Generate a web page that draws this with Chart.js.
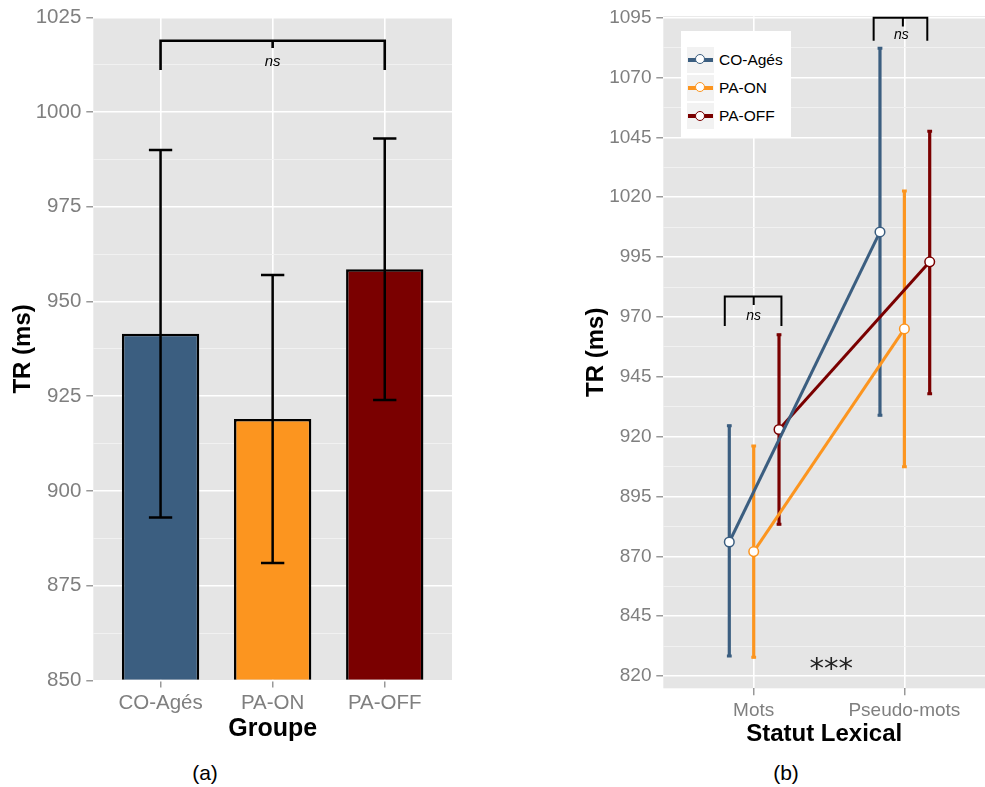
<!DOCTYPE html>
<html><head><meta charset="utf-8">
<script src="https://cdn.jsdelivr.net/npm/chart.js@4.4.1/dist/chart.umd.min.js"></script>
<style>
html,body{margin:0;padding:0;background:#fff;width:985px;height:787px;overflow:hidden;position:relative;font-family:"Liberation Sans",Arial,sans-serif;}
#wa{position:absolute;left:0;top:0;width:470px;height:750px;}
#wb{position:absolute;left:575px;top:0;width:410px;height:750px;}
.cap{position:absolute;font-size:21px;color:#000;transform:translate(-50%,-50%);white-space:nowrap;}
#legend{position:absolute;left:681px;top:31px;width:110px;height:106px;background:#fff;}
.li{position:absolute;left:6px;height:26px;width:120px;}
.key{position:absolute;left:0;top:0;width:27px;height:26px;background:#F2F2F2;}
.kl{position:absolute;left:1px;top:11px;width:25px;height:4px;}
.kc{position:absolute;left:8px;top:7.5px;width:8px;height:8px;border-radius:50%;background:#fff;border:1.5px solid;}
.lt{position:absolute;left:32px;top:0;line-height:26px;font-size:15.5px;color:#000;}
</style></head>
<body>
<div id="wa"><canvas id="ca" width="470" height="750"></canvas></div>
<div id="wb"><canvas id="cb" width="410" height="750"></canvas></div>
<div id="legend"></div>
<div class="cap" style="left:205px;top:773px;">(a)</div>
<div class="cap" style="left:786px;top:773px;">(b)</div>
<script>
// ---------- data: chart (a) ----------
const groups = ['CO-Agés', 'PA-ON', 'PA-OFF'];
const barMeans = [941.5, 919, 958.5];
const barLower = [893, 881, 924];
const barUpper = [990, 957, 993];
const yTicksA = [850, 875, 900, 925, 950, 975, 1000, 1025];

// ---------- data: chart (b) ----------
const lexLabels = ['Mots', 'Pseudo-mots'];
const seriesNames = ['CO-Agés', 'PA-ON', 'PA-OFF'];
const coMeans = [876, 1005.5];
const coLower = [828, 928.5];
const coUpper = [925, 1082.6];
const onMeans = [872, 965];
const onLower = [827.4, 907];
const onUpper = [916.5, 1023];
const offMeans = [923, 993];
const offLower = [883, 937.5];
const offUpper = [963, 1048];
const yTicksB = [820, 845, 870, 895, 920, 945, 970, 995, 1020, 1045, 1070, 1095];

const COLORS = ['#3B5E80', '#FC951F', '#7A0000'];
const FONT = '"Liberation Sans", Arial, sans-serif';
Chart.defaults.font.family = FONT;
Chart.defaults.animation = false;

function withMinor(majors) {
  const out = [];
  majors.forEach((v, i) => {
    out.push({value: v});
    if (i < majors.length - 1) out.push({value: (v + majors[i + 1]) / 2});
  });
  return out;
}
const bgPlugin = {
  id: 'panelBg',
  beforeDraw(chart) {
    const {ctx, chartArea: a} = chart;
    ctx.save();
    ctx.fillStyle = '#E5E5E5';
    ctx.fillRect(a.left, a.top, a.right - a.left, a.bottom - a.top);
    ctx.restore();
  }
};
function drawBracket(ctx, xs, ys, b, lw, fontSize) {
  const x1 = xs.getPixelForValue(b.x1), x2 = xs.getPixelForValue(b.x2), xm = xs.getPixelForValue(b.xm);
  const y = ys.getPixelForValue(b.y), ye = ys.getPixelForValue(b.yEnd), ymid = ys.getPixelForValue(b.yMid);
  ctx.save();
  ctx.strokeStyle = '#000';
  ctx.lineWidth = lw;
  ctx.beginPath();
  ctx.moveTo(x1, ye); ctx.lineTo(x1, y); ctx.lineTo(x2, y); ctx.lineTo(x2, ye);
  ctx.moveTo(xm, y); ctx.lineTo(xm, ymid);
  ctx.stroke();
  ctx.fillStyle = '#000';
  ctx.font = 'italic ' + fontSize + 'px ' + FONT;
  ctx.textAlign = 'center';
  ctx.textBaseline = 'middle';
  ctx.fillText(b.text, xs.getPixelForValue(b.xl), ys.getPixelForValue(b.yl));
  ctx.restore();
}
function yScaleOpts(majors, min, max, width, fontSize, tickPad, titlePad) {
  const isMajor = v => majors.some(m => Math.abs(m - v) < 1e-6);
  return {
    type: 'linear', min: min, max: max,
    afterBuildTicks: s => { s.ticks = withMinor(majors); },
    afterFit: s => { s.width = width; },
    ticks: {
      autoSkip: false, padding: tickPad, color: '#7F7F7F',
      font: {size: fontSize},
      callback: v => isMajor(v) ? String(v) : ''
    },
    grid: {
      offset: false, drawTicks: true, tickLength: 7,
      color: c => (c.tick && isMajor(c.tick.value)) ? '#FFFFFF' : '#F2F2F2',
      lineWidth: c => (c.tick && isMajor(c.tick.value)) ? 1.6 : 0.9,
      tickColor: c => (c.tick && isMajor(c.tick.value)) ? '#7F7F7F' : 'rgba(0,0,0,0)',
      tickWidth: 1.2
    },
    border: {display: false},
    title: {display: true, text: 'TR (ms)', color: '#000', font: {size: 24, weight: 'bold'}, padding: {top: titlePad, bottom: 0}}
  };
}

// ---------- chart (a) ----------
const bracketsA = [{x1: 1, x2: 3, xm: 2, y: 1018.8, yEnd: 1011.1, yMid: 1016.9, text: 'ns', xl: 2, yl: 1013.3}];
const errA = {
  id: 'errA',
  afterDatasetsDraw(chart) {
    const {ctx} = chart, xs = chart.scales.x, ys = chart.scales.y;
    ctx.save();
    ctx.strokeStyle = '#000';
    ctx.lineWidth = 2.5;
    barMeans.forEach((m, i) => {
      const x = xs.getPixelForValue(i + 1);
      const xl = xs.getPixelForValue(i + 1 - 0.104), xr = xs.getPixelForValue(i + 1 + 0.104);
      const yl = ys.getPixelForValue(barLower[i]), yu = ys.getPixelForValue(barUpper[i]);
      ctx.beginPath();
      ctx.moveTo(x, yl); ctx.lineTo(x, yu);
      ctx.moveTo(xl, yu); ctx.lineTo(xr, yu);
      ctx.moveTo(xl, yl); ctx.lineTo(xr, yl);
      ctx.stroke();
    });
    ctx.restore();
    bracketsA.forEach(b => drawBracket(ctx, xs, ys, b, 2.6, 15));
  }
};
new Chart(document.getElementById('ca'), {
  type: 'bar',
  data: {
    datasets: [{
      data: barMeans.map((v, i) => ({x: i + 1, y: v})),
      backgroundColor: COLORS,
      borderColor: '#000',
      borderWidth: 2.5,
      borderSkipped: 'start',
      base: 850,
      barPercentage: 0.69,
      categoryPercentage: 1
    }]
  },
  options: {
    responsive: false,
    layout: {autoPadding: false, padding: {top: 17.3, right: 18, bottom: 0, left: 0}},
    plugins: {legend: {display: false}, tooltip: {enabled: false}},
    scales: {
      x: {
        type: 'linear', min: 0.4, max: 3.6, offset: false,
        afterBuildTicks: s => { s.ticks = groups.map((g, i) => ({value: i + 1})); },
        afterFit: s => { s.height = 69.5; },
        ticks: {autoSkip: false, maxRotation: 0, padding: 3.5, color: '#7F7F7F', font: {size: 20.5},
          callback: v => groups[Math.round(v) - 1]},
        grid: {offset: false, color: '#FFFFFF', lineWidth: 1.6, tickLength: 7, tickColor: '#7F7F7F', tickWidth: 1.2},
        border: {display: false},
        title: {display: true, text: 'Groupe', color: '#000', font: {size: 25, weight: 'bold'}, padding: {top: 0, bottom: 6.3}}
      },
      y: yScaleOpts(yTicksA, 850, 1025, 93.3, 20.5, 5, 8.6)
    }
  },
  plugins: [bgPlugin, errA]
});

// ---------- chart (b) ----------
const DODGE = [-0.162, 0, 0.168];
const meansB = [coMeans, onMeans, offMeans];
const lowerB = [coLower, onLower, offLower];
const upperB = [coUpper, onUpper, offUpper];
const bracketsB = [
  {x1: 0.808, x2: 1.184, xm: 1.0, y: 978.5, yEnd: 966.2, yMid: 975, text: 'ns', xl: 1.0, yl: 970.2},
  {x1: 1.796, x2: 2.152, xm: 1.99, y: 1095, yEnd: 1085.3, yMid: 1091.3, text: 'ns', xl: 1.98, yl: 1087.6}
];
const starsB = {text: '***', x: 1.514, y: 825.5};
const errB = {
  id: 'errB',
  beforeDatasetsDraw(chart) {
    const {ctx} = chart, xs = chart.scales.x, ys = chart.scales.y;
    ctx.save();
    meansB.forEach((means, s) => {
      ctx.strokeStyle = COLORS[s];
      means.forEach((m, i) => {
        const x = xs.getPixelForValue(i + 1 + DODGE[s]);
        const yl = ys.getPixelForValue(lowerB[s][i]), yu = ys.getPixelForValue(upperB[s][i]);
        ctx.lineWidth = 3.2;
        ctx.beginPath(); ctx.moveTo(x, yl); ctx.lineTo(x, yu); ctx.stroke();
        ctx.lineWidth = 3;
        ctx.beginPath();
        ctx.moveTo(x - 2.4, yu + 1); ctx.lineTo(x + 2.4, yu + 1);
        ctx.moveTo(x - 2.4, yl - 1); ctx.lineTo(x + 2.4, yl - 1);
        ctx.stroke();
      });
    });
    ctx.restore();
  },
  afterDatasetsDraw(chart) {
    const {ctx} = chart, xs = chart.scales.x, ys = chart.scales.y;
    bracketsB.forEach(b => drawBracket(ctx, xs, ys, b, 2, 14));
    ctx.save();
    ctx.fillStyle = '#222';
    ctx.font = '29px "DejaVu Sans", sans-serif';
    ctx.textAlign = 'center';
    ctx.textBaseline = 'alphabetic';
    ctx.fillText(starsB.text, xs.getPixelForValue(starsB.x), ys.getPixelForValue(starsB.y) + 15);
    ctx.restore();
  }
};
new Chart(document.getElementById('cb'), {
  type: 'line',
  data: {
    datasets: meansB.map((means, s) => ({
      label: seriesNames[s],
      data: means.map((v, i) => ({x: i + 1 + DODGE[s], y: v})),
      borderColor: COLORS[s],
      borderWidth: 3,
      pointRadius: 4.8,
      pointBorderWidth: 1.5,
      pointBackgroundColor: '#FFFFFF',
      pointBorderColor: COLORS[s],
      fill: false,
      tension: 0
    }))
  },
  options: {
    responsive: false,
    layout: {autoPadding: false, padding: {top: 14.5, right: 0, bottom: 0, left: 0}},
    plugins: {legend: {display: false}, tooltip: {enabled: false}},
    scales: {
      x: {
        type: 'linear', min: 0.4, max: 2.535, offset: false,
        afterBuildTicks: s => { s.ticks = lexLabels.map((g, i) => ({value: i + 1})); },
        afterFit: s => { s.height = 61.7; },
        ticks: {autoSkip: false, maxRotation: 0, padding: 3.6, color: '#7F7F7F', font: {size: 19},
          callback: v => lexLabels[Math.round(v) - 1]},
        grid: {offset: false, color: '#FFFFFF', lineWidth: 1.6, tickLength: 7, tickColor: '#7F7F7F', tickWidth: 1.2},
        border: {display: false},
        title: {display: true, text: 'Statut Lexical', color: '#000', font: {size: 24, weight: 'bold'}, padding: {top: 0, bottom: 0.9}}
      },
      y: yScaleOpts(yTicksB, 814.9, 1095.6, 88.3, 19, 4.8, 7.1)
    }
  },
  plugins: [bgPlugin, errB]
});

// ---------- legend (b) ----------
const leg = document.getElementById('legend');
seriesNames.forEach((n, s) => {
  const d = document.createElement('div');
  d.className = 'li';
  d.style.top = (15.7 + s * 28.2) + 'px';
  d.innerHTML = '<div class="key"><div class="kl" style="background:' + COLORS[s] + '"></div>' +
    '<div class="kc" style="border-color:' + COLORS[s] + '"></div></div><div class="lt"></div>';
  d.querySelector('.lt').textContent = n;
  leg.appendChild(d);
});
</script>
</body></html>
